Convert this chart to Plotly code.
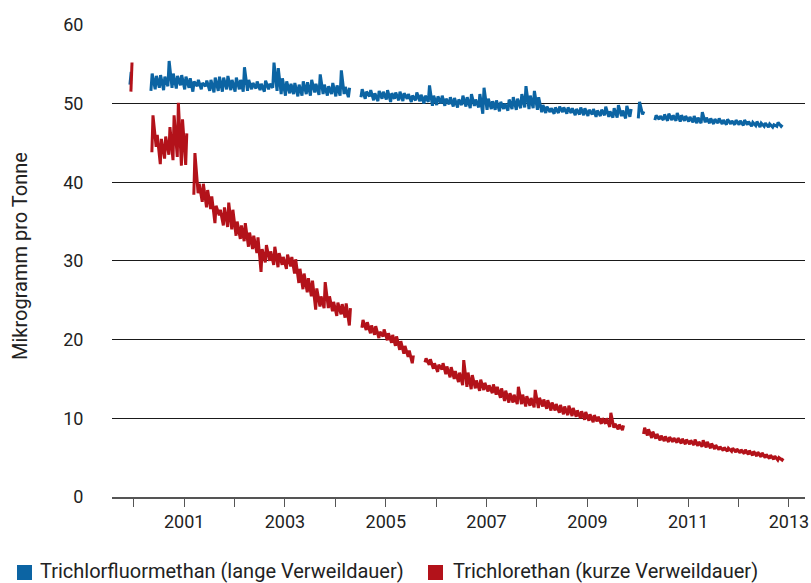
import plotly.graph_objects as go

# Months (Dec 1999 .. Nov 2012)
months = ["1999-12"] + [f"{y}-{m:02d}" for y in range(2000, 2013) for m in range(1, 13)][:-1]

N = None
# Trichlorfluormethan (blue): first / second sample of each month
cfc_first = [52.4,
    N, N, N, N, 51.6, 51.8, 52.0, 51.7, 52.2, 52.0, 51.9, 52.3,
    51.8, 52.0, 51.5, 52.2, 51.8, 52.2, 51.6, 51.4, 51.6, 51.5, 51.8, 51.7,
    51.5, 51.8, 51.5, 51.6, 51.8, 51.9, 51.7, 51.5, 51.8, 52.0, 51.6, 51.2,
    51.0, 51.3, 51.2, 50.9, 51.0, 51.2, 51.0, 51.4, 51.1, 51.2, 51.0, 51.2,
    50.9, 51.0, 51.2, 50.8, N, N, 50.8, 50.6, 50.9, 50.4, 50.3, 50.6,
    50.5, 50.2, 50.6, 50.4, 50.3, 50.6, 50.2, 50.4, 50.3, 50.0, 50.2, 49.7,
    49.8, 50.0, 49.7, 49.9, 49.6, 49.5, 49.8, 49.6, 49.4, 49.7, 49.5, 48.7,
    49.2, 49.3, 49.2, 49.0, 49.3, 49.1, 49.3, 49.2, 49.4, 49.5, 49.3, 49.4,
    49.2, 48.9, 48.8, 48.9, 48.7, 48.8, 48.9, 48.7, 48.8, 48.5, 48.6, 48.5,
    48.4, 48.6, 48.3, 48.4, 48.5, 48.3, 48.2, 48.2, 48.4, 48.1, 48.3, N,
    48.1, 48.6, N, N, 47.9, 48.0, 47.9, 47.8, 47.9, 47.8, 47.7, 47.8,
    47.7, 47.6, 47.5, 47.5, 47.6, 47.5, 47.4, 47.5, 47.4, 47.3, 47.4, 47.3,
    47.3, 47.2, 47.3, 47.1, 47.2, 47.0, 47.1, 47.0, 47.0, 47.1, 47.1]
cfc_second = [54.0,
    N, N, N, N, 53.8, 53.5, 53.6, 53.4, 55.4, 53.8, 53.5, 53.6,
    53.4, 53.2, 52.8, 53.0, 52.6, 52.9, 53.0, 53.3, 53.4, 53.3, 53.5, 53.0,
    53.3, 53.0, 54.6, 53.0, 52.6, 52.8, 52.5, 52.9, 52.5, 55.2, 54.5, 53.2,
    52.8, 52.5, 52.6, 52.4, 52.8, 52.7, 53.0, 52.5, 53.7, 52.4, 52.2, 52.6,
    52.3, 54.2, 52.1, 52.0, N, N, 51.8, 51.5, 51.7, 51.3, 51.6, 51.5,
    51.7, 51.3, 51.4, 51.5, 51.3, 51.2, 51.0, 51.4, 51.1, 51.0, 52.3, 51.0,
    50.9, 51.0, 50.6, 50.8, 50.7, 50.5, 51.0, 50.8, 51.2, 50.5, 51.2, 52.0,
    50.6, 50.3, 50.4, 50.2, 50.0, 50.5, 50.8, 50.6, 51.2, 52.2, 51.0, 51.6,
    50.8, 49.8, 49.6, 49.4, 49.5, 49.6, 49.5, 49.5, 49.4, 49.3, 49.5, 49.4,
    49.2, 49.3, 49.1, 49.2, 49.6, 49.0, 49.4, 49.8, 49.1, 49.7, 49.3, N,
    50.2, 49.0, N, N, 48.5, 48.4, 48.6, 48.7, 48.5, 48.8, 48.5, 48.4,
    48.3, 48.4, 48.2, 48.9, 48.2, 48.1, 48.0, 48.1, 47.9, 48.0, 47.8, 47.9,
    47.8, 47.9, 47.7, 47.6, 47.7, 47.5, 47.5, 47.4, 47.3, 47.6, 47.3]

# Trichlorethan (red): first / second sample of each month
tce_first = [51.5,
    N, N, N, N, 43.8, 44.5, 42.3, 43.0, 43.5, 42.8, 43.2, 42.1,
    42.2, N, 38.4, 38.6, 37.5, 36.8, 36.6, 34.8, 35.8, 34.5, 34.3, 34.0,
    33.2, 32.8, 32.5, 31.8, 31.5, 31.0, 28.6, 29.8, 30.0, 29.5, 29.2, 29.5,
    29.0, 29.3, 28.4, 27.2, 26.4, 26.0, 25.5, 23.8, 24.2, 24.0, 24.0, 23.6,
    23.0, 23.2, 22.8, 21.8, N, N, 21.5, 21.2, 20.8, 20.6, 20.2, 20.4,
    19.9, 19.6, 19.2, 18.7, 18.2, 17.8, 17.0, N, N, 17.1, 16.8, 16.3,
    15.9, 16.2, 15.6, 15.2, 15.0, 14.6, 14.2, 14.0, 13.7, 13.8, 13.5, 13.6,
    13.4, 13.2, 13.0, 12.6, 12.2, 12.0, 12.0, 11.8, 11.8, 11.5, 11.6, 11.4,
    11.3, 11.5, 11.2, 11.0, 11.0, 10.7, 10.5, 10.4, 10.3, 10.2, 10.0, 9.8,
    9.7, 9.5, 9.6, 9.3, 9.3, 8.9, 8.8, 8.6, 8.5, N, N, N,
    N, 8.0, 7.8, 7.5, 7.4, 7.2, 7.1, 7.0, 7.0, 6.9, 6.8, 6.7,
    6.7, 6.6, 6.5, 6.4, 6.3, 6.2, 6.1, 6.0, 5.9, 5.8, 5.8, 5.7,
    5.6, 5.5, 5.4, 5.3, 5.2, 5.1, 5.0, 4.9, 4.8, 4.7, 4.7]
tce_second = [55.2,
    N, N, N, N, 48.5, 46.0, 45.5, 45.8, 47.0, 48.5, 50.1, 48.0,
    46.2, N, 43.7, 39.8, 39.8, 39.0, 38.2, 37.0, 36.5, 36.8, 37.4, 36.5,
    35.0, 34.5, 34.8, 33.6, 33.2, 33.0, 31.5, 32.0, 31.2, 31.8, 31.0, 30.5,
    30.8, 30.5, 30.2, 29.0, 28.4, 27.8, 27.5, 26.5, 25.5, 27.3, 25.5, 24.8,
    24.7, 24.5, 24.6, 24.0, N, N, 22.5, 22.2, 21.8, 21.7, 21.0, 21.3,
    20.8, 20.6, 20.4, 19.8, 19.2, 18.6, 18.0, N, N, 17.6, 17.5, 17.0,
    16.8, 17.0, 16.6, 16.5, 16.0, 15.8, 17.4, 15.8, 15.5, 14.8, 14.9, 14.5,
    14.2, 14.3, 14.0, 13.8, 13.5, 13.2, 13.0, 14.0, 13.0, 12.8, 12.6, 13.6,
    12.6, 12.4, 12.3, 12.0, 11.8, 11.7, 11.5, 11.6, 11.3, 11.0, 10.9, 10.8,
    10.5, 10.4, 10.2, 10.0, 10.0, 10.7, 9.3, 9.2, 9.1, N, N, N,
    N, 8.8, 8.6, 8.3, 8.0, 7.8, 7.7, 7.6, 7.5, 7.5, 7.4, 7.3,
    7.2, 7.3, 7.0, 7.2, 7.0, 6.8, 6.6, 6.4, 6.3, 6.2, 6.2, 6.1,
    6.0, 6.0, 5.9, 5.8, 5.7, 5.6, 5.4, 5.3, 5.2, 5.0, 4.9]

year_ticks = [f"{y}-01-01" for y in range(2000, 2014)]
year_text = [str(y) if y % 2 == 1 else "" for y in range(2000, 2014)]

names = ["Trichlorfluormethan (lange Verweildauer)", "Trichlorethan (kurze Verweildauer)"]
colors = ["#0c64a3", "#b3121a"]


def build(first, second, d1, d2):
    xs, ys = [], []
    for m, a, b in zip(months, first, second):
        if a is None:
            xs.append(f"{m}-15"); ys.append(None)
        else:
            xs += [f"{m}-{d1}", f"{m}-{d2}"]; ys += [a, b]
    return xs, ys


fig = go.Figure()
for first, second, col, nm, d1, d2 in [(cfc_first, cfc_second, colors[0], names[0], "05", "14"),
                                        (tce_first, tce_second, colors[1], names[1], "12", "20")]:
    xs, ys = build(first, second, d1, d2)
    fig.add_trace(go.Scatter(x=xs, y=ys, mode="lines", name=nm, line=dict(color=col, width=3),
                             showlegend=False, connectgaps=False, hoverinfo="skip"))

W, H = 811, 583
ML, MR, MT, MB = 112, 6, 24, 86
pw, ph = W - ML - MR, H - MT - MB


def px(xpage):
    return (xpage - ML) / pw


def py(ypage):
    return (H - MB - ypage) / ph


shapes, annos = [], []
legend_items = [(17, 38, names[0], colors[0]), (428, 451, names[1], colors[1])]
for sx, tx, nm, col in legend_items:
    shapes.append(dict(type="rect", xref="paper", yref="paper",
                       x0=px(sx), x1=px(sx + 15), y0=py(565), y1=py(580),
                       fillcolor=col, line=dict(width=0)))
    annos.append(dict(text=nm, xref="paper", yref="paper", x=px(tx), y=py(571),
                      xanchor="left", yanchor="middle", showarrow=False,
                      font=dict(size=20, color="#222")))
annos.append(dict(text="Mikrogramm pro Tonne", textangle=-90, xref="paper", yref="paper",
                  x=px(20), y=py(256), xanchor="center", yanchor="middle", showarrow=False,
                  font=dict(size=20, color="#222")))

font_fam = "Roboto, 'Liberation Sans', sans-serif"
fig.update_layout(
    width=W, height=H,
    margin=dict(l=ML, r=MR, t=MT, b=MB, autoexpand=False),
    paper_bgcolor="white", plot_bgcolor="white",
    font=dict(family=font_fam, size=18, color="#222"),
    showlegend=False,
    xaxis=dict(type="date", range=["1999-07-28", "2013-04-27"], automargin=False,
               tickvals=year_ticks, ticktext=year_text,
               ticks="outside", ticklen=8, tickcolor="#555", tickwidth=1,
               showline=True, linecolor="#555", linewidth=1.5,
               showgrid=False, zeroline=False,
               tickfont=dict(size=18, color="#222")),
    yaxis=dict(range=[0, 60.1], tickvals=[0, 10, 20, 30, 40, 50, 60], automargin=False,
               showgrid=True, gridcolor="#1a1a1a", gridwidth=1,
               zeroline=False, showline=False,
               ticks="outside", ticklen=24, tickcolor="rgba(0,0,0,0)",
               tickfont=dict(size=18, color="#222")),
    shapes=shapes,
    annotations=annos,
)

fig.write_html("out.html", config={"displayModeBar": False, "staticPlot": True},
               post_script="document.body.style.margin='0';document.body.style.overflow='hidden';")
